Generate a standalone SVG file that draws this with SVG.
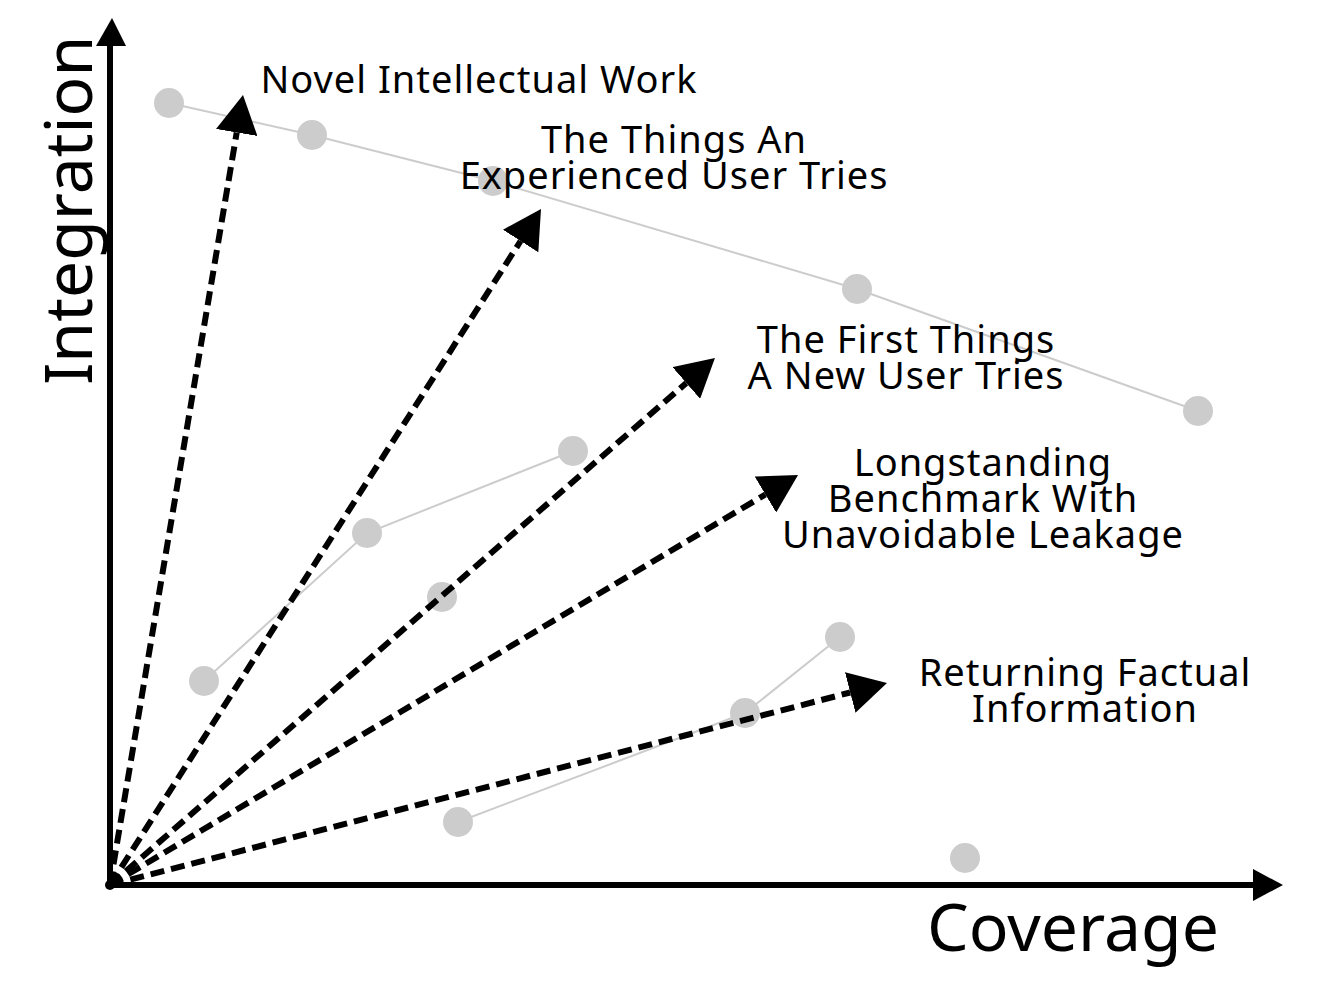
<svg xmlns="http://www.w3.org/2000/svg" width="1318" height="992" viewBox="0 0 1318 992">
<style>
.lbl{font-family:"Noto Sans","Open Sans",sans-serif;font-size:38px;letter-spacing:1px;fill:#000;text-anchor:middle}
.ax{font-family:"Noto Sans","Open Sans",sans-serif;font-size:66px;fill:#000}
.dot{fill:#cccccc}
.gl{stroke:#cccccc;stroke-width:2;fill:none}
.dash{stroke:#000;stroke-width:6;stroke-dasharray:14 7;fill:none;marker-end:url(#ah)}
</style>
<defs>
<marker id="ah" markerUnits="userSpaceOnUse" viewBox="0 -21 38 42" refX="0" refY="0" markerWidth="38" markerHeight="42" orient="auto">
<path d="M0,-21 L38,0 L0,21 z" fill="#000"/>
</marker>
</defs>
<rect width="1318" height="992" fill="#fff"/>
<g id="series">
<polyline class="gl" points="169,103 312,135 493,181 857,289 1198,411"/>
<polyline class="gl" points="204,681 367,533 573,451"/>
<polyline class="gl" points="458,822 745,713 840,637"/>
<circle class="dot" cx="169" cy="103" r="15"/>
<circle class="dot" cx="312" cy="135" r="15"/>
<circle class="dot" cx="493" cy="181" r="15"/>
<circle class="dot" cx="857" cy="289" r="15"/>
<circle class="dot" cx="1198" cy="411" r="15"/>
<circle class="dot" cx="204" cy="681" r="15"/>
<circle class="dot" cx="367" cy="533" r="15"/>
<circle class="dot" cx="573" cy="451" r="15"/>
<circle class="dot" cx="442" cy="597" r="15"/>
<circle class="dot" cx="458" cy="822" r="15"/>
<circle class="dot" cx="745" cy="713" r="15"/>
<circle class="dot" cx="840" cy="637" r="15"/>
<circle class="dot" cx="965" cy="858" r="15"/>
</g>
<g id="axes">
<line x1="110" y1="885" x2="110" y2="44" stroke="#000" stroke-width="6"/>
<path d="M96,46 L112,18 L126,46 z" fill="#000"/>
<line x1="107" y1="885" x2="1256" y2="885" stroke="#000" stroke-width="6"/>
<path d="M1253,869 L1283,885 L1253,901 z" fill="#000"/>
<circle cx="110" cy="885" r="5" fill="#000"/>
<text class="ax" transform="translate(92,385) rotate(-90)">Integration</text>
<text class="ax" x="927" y="951">Coverage</text>
</g>
<g id="connectors">
<line class="dash" x1="110" y1="885" x2="236.7" y2="132.5"/>
<line class="dash" x1="110" y1="885" x2="520.6" y2="241.0"/>
<line class="dash" x1="110" y1="885" x2="686.3" y2="383.0"/>
<line class="dash" x1="110" y1="885" x2="765.4" y2="494.5"/>
<line class="dash" x1="110" y1="885" x2="850.2" y2="692.5"/>
</g>
<g id="n1"><text class="lbl" x="479" y="93">Novel Intellectual Work</text></g>
<g id="n2"><text class="lbl" x="674" y="153">The Things An</text><text class="lbl" x="674" y="189">Experienced User Tries</text></g>
<g id="n3"><text class="lbl" x="906" y="353">The First Things</text><text class="lbl" x="906" y="389">A New User Tries</text></g>
<g id="n4"><text class="lbl" x="983" y="476">Longstanding</text><text class="lbl" x="983" y="512">Benchmark With</text><text class="lbl" x="983" y="548">Unavoidable Leakage</text></g>
<g id="n5"><text class="lbl" x="1085" y="686">Returning Factual</text><text class="lbl" x="1085" y="722">Information</text></g>
</svg>
